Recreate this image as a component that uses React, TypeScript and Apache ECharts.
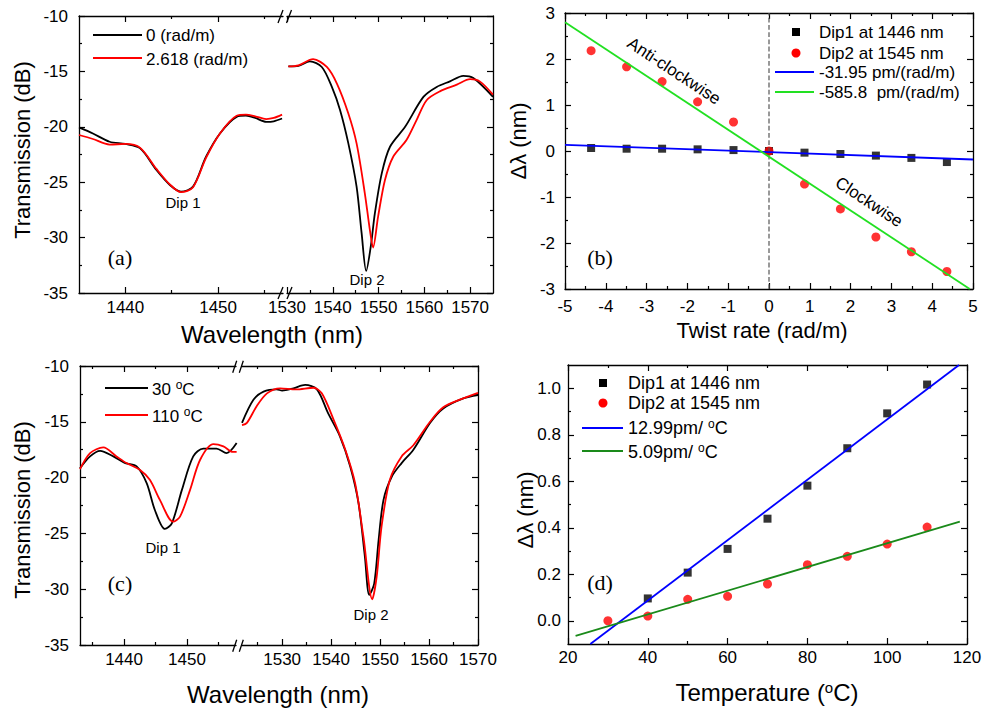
import React, { useEffect, useRef } from 'react';
import * as echarts from 'echarts';

// ---------- Panel (a): transmission vs wavelength under twist ----------
const aLeftBlack: [number, number][] = [
  [1435.0, -20.05], [1436.5, -20.6], [1438.3, -21.35], [1440.0, -21.55], [1441.6, -21.95],
  [1443.35, -23.9], [1444.8, -25.25], [1446.0, -25.85], [1447.3, -25.4], [1448.7, -22.7],
  [1450.2, -20.6], [1452.0, -19.1], [1453.0, -19.0], [1454.0, -19.2], [1455.2, -19.55],
  [1456.0, -19.5], [1456.9, -19.25],
];
const aLeftRed: [number, number][] = [
  [1435.0, -20.74], [1436.5, -21.1], [1438.3, -21.6], [1440.0, -21.55], [1441.6, -21.9],
  [1443.35, -23.8], [1444.8, -25.2], [1446.0, -25.9], [1447.3, -25.45], [1448.7, -22.8],
  [1450.2, -20.6], [1452.0, -19.0], [1453.0, -18.9], [1454.0, -19.05], [1455.2, -19.3],
  [1456.0, -19.2], [1456.9, -18.9],
];
const aRightBlack: [number, number][] = [
  [1530.3, -14.55], [1532.5, -14.5], [1535.0, -14.1], [1537.6, -14.6], [1539.8, -16.4],
  [1541.6, -18.5], [1543.4, -21.5], [1545.2, -25.4], [1546.3, -29.6], [1547.3, -33.0],
  [1548.3, -30.8], [1549.2, -27.8], [1550.7, -24.2], [1552.5, -21.8], [1555.8, -20.0],
  [1559.8, -17.3], [1562.7, -16.4], [1565.6, -15.9], [1568.5, -15.4], [1570.7, -15.6],
  [1575.0, -17.3],
];
const aRightRed: [number, number][] = [
  [1530.3, -14.55], [1532.5, -14.45], [1535.7, -13.9], [1538.7, -14.6], [1540.9, -16.1],
  [1543.4, -18.8], [1545.2, -21.5], [1547.0, -26.0], [1548.1, -29.3], [1548.8, -30.9],
  [1549.9, -28.1], [1551.4, -24.8], [1553.2, -22.7], [1556.1, -21.2], [1558.3, -19.4],
  [1560.5, -17.6], [1563.4, -16.8], [1567.1, -16.2], [1570.0, -15.7], [1572.1, -15.9],
  [1575.0, -17.1],
];

// ---------- Panel (b): shift vs twist rate ----------
const twistRates = [-4.36, -3.49, -2.62, -1.75, -0.87, 0, 0.87, 1.75, 2.62, 3.49, 4.36];
const dip1Twist = [0.065, 0.05, 0.05, 0.036, 0.02, 0, -0.036, -0.065, -0.1, -0.15, -0.24];
const dip2Twist = [2.18, 1.83, 1.51, 1.07, 0.63, 0, -0.72, -1.26, -1.87, -2.19, -2.62];
const fitTwistDip1: [number, number][] = [[-5, 0.135], [5, -0.185]];
const fitTwistDip2: [number, number][] = [[-5, 2.8], [4.92, -3.0]];
const zeroLine: [number, number][] = [[0, -3], [0, 3]];

// ---------- Panel (c): transmission vs wavelength at two temperatures ----------
const cLeftBlack: [number, number][] = [
  [1433.0, -19.17], [1434.6, -18.1], [1436.2, -17.6], [1438.3, -18.1], [1440.2, -18.7],
  [1442.0, -19.0], [1443.6, -20.5], [1444.9, -22.9], [1446.5, -24.6], [1447.6, -24.1],
  [1449.2, -21.1], [1451.0, -18.1], [1452.6, -17.4], [1454.7, -17.4], [1456.3, -17.8],
  [1457.9, -16.9],
];
const cLeftRed: [number, number][] = [
  [1433.0, -19.25], [1434.6, -17.8], [1436.7, -17.3], [1438.8, -18.1], [1440.4, -18.7],
  [1442.5, -19.3], [1444.1, -20.2], [1445.7, -22.0], [1447.8, -23.95], [1448.9, -23.5],
  [1450.5, -21.1], [1452.1, -18.4], [1454.2, -17.0], [1455.8, -17.2], [1457.3, -17.7],
  [1457.9, -17.7],
];
const cRightBlack: [number, number][] = [
  [1521.8, -15.1], [1524.1, -13.05], [1526.2, -12.3], [1528.9, -12.1], [1530.0, -12.2],
  [1532.3, -12.0], [1534.7, -11.7], [1537.1, -12.1], [1539.4, -14.25], [1541.8, -16.3],
  [1543.9, -19.0], [1545.6, -22.3], [1546.9, -27.1], [1547.8, -30.5], [1548.8, -29.5],
  [1549.7, -25.6], [1550.7, -22.0], [1552.4, -19.9], [1554.4, -18.7], [1556.8, -17.5],
  [1560.2, -15.1], [1562.9, -13.8], [1567.0, -12.9], [1570.0, -12.6],
];
const cRightRed: [number, number][] = [
  [1521.8, -15.3], [1522.8, -15.1], [1524.8, -13.6], [1526.9, -12.45], [1529.6, -12.0],
  [1532.8, -12.1], [1536.4, -11.95], [1538.1, -12.45], [1540.5, -14.8], [1542.9, -17.5],
  [1544.9, -20.5], [1546.6, -25.3], [1548.4, -30.9], [1549.3, -28.9], [1550.3, -24.4],
  [1552.0, -20.2], [1554.4, -18.1], [1556.8, -17.1], [1560.2, -15.0], [1562.9, -13.7],
  [1567.0, -12.9], [1570.0, -12.4],
];

// ---------- Panel (d): shift vs temperature ----------
const temps1 = [40, 50, 60, 70, 80, 90, 100, 110];
const dip1Temp = [0.096, 0.207, 0.309, 0.439, 0.581, 0.742, 0.892, 1.016];
const temps2 = [30, 40, 50, 60, 70, 80, 90, 100, 110];
const dip2Temp = [0.0, 0.02, 0.092, 0.105, 0.158, 0.241, 0.277, 0.33, 0.403];
const fitTempDip1: [number, number][] = [[25.6, -0.1], [118.0, 1.1]];
const fitTempDip2: [number, number][] = [[21.9, -0.065], [118.2, 0.426]];

// ---------- Tick values ----------
const transTicks = [-35, -30, -25, -20, -15, -10];
const transMinor = [-32.5, -27.5, -22.5, -17.5, -12.5];
const aLeftTicks = [1440, 1450];
const aLeftMinor = [1445, 1455];
const rightWlTicks = [1530, 1540, 1550, 1560, 1570];
const aRightMinor = [1535, 1545, 1555, 1565];
const cLeftTicks = [1440, 1450];
const cLeftMinor = [1435, 1445, 1455];
const cRightMinor = [1525, 1535, 1545, 1555, 1565];
const twistTicks = [-5, -4, -3, -2, -1, 0, 1, 2, 3, 4, 5];
const twistMinor = [-4.5, -3.5, -2.5, -1.5, -0.5, 0.5, 1.5, 2.5, 3.5, 4.5];
const shiftTicksB = [-3, -2, -1, 0, 1, 2, 3];
const shiftMinorB = [-2.5, -1.5, -0.5, 0.5, 1.5, 2.5];
const tempTicks = [20, 40, 60, 80, 100, 120];
const tempMinor = [30, 50, 70, 90, 110];
const shiftTicksD = [0, 0.2, 0.4, 0.6, 0.8, 1.0];
const shiftMinorD = [0.1, 0.3, 0.5, 0.7, 0.9];

const SANS = '"Liberation Sans", Arial, sans-serif';
const SERIF = '"Liberation Serif", "Times New Roman", serif';

function buildOption() {
  const grids = [
    { left: 79, top: 16, width: 204, height: 277 },
    { left: 287, top: 16, width: 206, height: 277 },
    { left: 565, top: 13, width: 408, height: 276 },
    { left: 80, top: 366, width: 156, height: 279 },
    { left: 242, top: 366, width: 236, height: 279 },
    { left: 568, top: 365, width: 399, height: 279 },
  ].map((g) => ({ ...g, containLabel: false, outerBoundsMode: 'none', show: false }));

  const xAxes: any[] = [];
  const yAxes: any[] = [];
  const axisColor = '#000';

  const addAxis = (
    list: any[], grid: number, pos: string, min: number, max: number,
    major: number[], minor: number[], label: boolean, fmt: (v: number) => string, margin: number
  ) => {
    const base = { type: 'value', gridIndex: grid, min, max, position: pos, splitLine: { show: false } };
    list.push({
      ...base,
      axisLine: { show: true, onZero: false, lineStyle: { color: axisColor, width: 1.3 } },
      axisTick: { show: true, inside: true, length: 6, customValues: major, lineStyle: { color: axisColor, width: 1.2 } },
      axisLabel: label
        ? { show: true, customValues: major, formatter: fmt, fontFamily: SANS, fontSize: 17, color: '#000', margin }
        : { show: false },
    });
    const idx = list.length - 1;
    list.push({
      ...base,
      axisLine: { show: false, onZero: false },
      axisTick: { show: true, inside: true, length: 3, customValues: minor, lineStyle: { color: axisColor, width: 1.2 } },
      axisLabel: { show: false },
    });
    return idx;
  };

  const str = (v: number) => String(v);
  const fix1 = (v: number) => v.toFixed(1);

  // grid 0 (a-left)
  const x0 = addAxis(xAxes, 0, 'bottom', 1435, 1457, aLeftTicks, aLeftMinor, true, str, 6);
  addAxis(xAxes, 0, 'top', 1435, 1457, aLeftTicks, aLeftMinor, false, str, 6);
  const y0 = addAxis(yAxes, 0, 'left', -35, -10, transTicks, transMinor, true, str, 11);
  // grid 1 (a-right)
  const x1 = addAxis(xAxes, 1, 'bottom', 1530, 1575, rightWlTicks, aRightMinor, true, str, 6);
  addAxis(xAxes, 1, 'top', 1530, 1575, rightWlTicks, aRightMinor, false, str, 6);
  const y1 = addAxis(yAxes, 1, 'right', -35, -10, transTicks, transMinor, false, str, 8);
  // grid 2 (b)
  const x2 = addAxis(xAxes, 2, 'bottom', -5, 5, twistTicks, twistMinor, true, str, 9);
  addAxis(xAxes, 2, 'top', -5, 5, twistTicks, twistMinor, false, str, 6);
  const y2 = addAxis(yAxes, 2, 'left', -3, 3, shiftTicksB, shiftMinorB, true, str, 10);
  addAxis(yAxes, 2, 'right', -3, 3, shiftTicksB, shiftMinorB, false, str, 8);
  // grid 3 (c-left)
  const x3 = addAxis(xAxes, 3, 'bottom', 1433, 1457.8, cLeftTicks, cLeftMinor, true, str, 6);
  addAxis(xAxes, 3, 'top', 1433, 1457.8, cLeftTicks, cLeftMinor, false, str, 6);
  const y3 = addAxis(yAxes, 3, 'left', -35, -10, transTicks, transMinor, true, str, 11);
  // grid 4 (c-right)
  const x4 = addAxis(xAxes, 4, 'bottom', 1521.8, 1570, rightWlTicks, cRightMinor, true, str, 6);
  addAxis(xAxes, 4, 'top', 1521.8, 1570, rightWlTicks, cRightMinor, false, str, 6);
  const y4 = addAxis(yAxes, 4, 'right', -35, -10, transTicks, transMinor, false, str, 8);
  // grid 5 (d)
  const x5 = addAxis(xAxes, 5, 'bottom', 20, 120, tempTicks, tempMinor, true, str, 5);
  addAxis(xAxes, 5, 'top', 20, 120, tempTicks, tempMinor, false, str, 6);
  const y5 = addAxis(yAxes, 5, 'left', -0.1, 1.1, shiftTicksD, shiftMinorD, true, fix1, 7);
  addAxis(yAxes, 5, 'right', -0.1, 1.1, shiftTicksD, shiftMinorD, false, fix1, 8);

  const spectrum = (data: [number, number][], xi: number, yi: number, color: string) => ({
    type: 'line', data, xAxisIndex: xi, yAxisIndex: yi, showSymbol: false, symbol: 'none',
    smooth: 0.3, lineStyle: { color, width: 1.8 }, silent: true,
  });
  const fit = (data: [number, number][], xi: number, yi: number, color: string, extra: any = {}) => ({
    type: 'line', data, xAxisIndex: xi, yAxisIndex: yi, showSymbol: false, symbol: 'none',
    lineStyle: { color, width: 1.8, ...extra }, silent: true,
  });
  const scatter = (xs: number[], ys: number[], xi: number, yi: number, color: string, symbol: string, size: number) => ({
    type: 'scatter', data: xs.map((x, i) => [x, ys[i]]), xAxisIndex: xi, yAxisIndex: yi,
    symbol, symbolSize: size, itemStyle: { color }, silent: true,
  });

  const BLUE = '#0000ff';
  const GREEN_B = '#22e022';
  const GREEN_D = '#1a8a1a';

  const series: any[] = [
    spectrum(aLeftBlack, x0, y0, '#000'),
    spectrum(aLeftRed, x0, y0, '#ff0000'),
    spectrum(aRightBlack, x1, y1, '#000'),
    spectrum(aRightRed, x1, y1, '#ff0000'),
    fit(zeroLine, x2, y2, '#555', { type: 'dashed', width: 1.2 }),
    fit(fitTwistDip1, x2, y2, BLUE),
    fit(fitTwistDip2, x2, y2, GREEN_B),
    scatter(twistRates, dip1Twist, x2, y2, '#000', 'rect', 8),
    scatter(twistRates, dip2Twist, x2, y2, '#ff0000', 'circle', 9),
    spectrum(cLeftBlack, x3, y3, '#000'),
    spectrum(cLeftRed, x3, y3, '#ff0000'),
    spectrum(cRightBlack, x4, y4, '#000'),
    spectrum(cRightRed, x4, y4, '#ff0000'),
    fit(fitTempDip1, x5, y5, BLUE),
    fit(fitTempDip2, x5, y5, GREEN_D),
    scatter(temps1, dip1Temp, x5, y5, '#000', 'rect', 8),
    scatter(temps2, dip2Temp, x5, y5, '#ff0000', 'circle', 9),
  ];

  const txt = (text: string, x: number, y: number, size: number, opts: any = {}) => ({
    type: 'text', x, y, z: 100, rotation: opts.rotation || 0,
    style: {
      text, fontFamily: opts.family || SANS, fontSize: size, fill: opts.fill || '#000',
      align: opts.align || 'center', verticalAlign: 'middle', rich: opts.rich,
    },
  });
  const ln = (x1: number, y1: number, x2: number, y2: number, color: string, w = 1.8) => ({
    type: 'line', z: 100, shape: { x1, y1, x2, y2 }, style: { stroke: color, lineWidth: w },
  });
  const sup = (size: number) => ({ s: { fontSize: size, fontFamily: SANS, verticalAlign: 'top', padding: [0, 0, size * 0.6, 0] } });

  const graphics: any[] = [
    // axis titles
    txt('Transmission (dB)', 22, 150, 22, { rotation: Math.PI / 2 }),
    txt('Wavelength (nm)', 272, 334, 24),
    txt('\u0394\u03bb (nm)', 518, 141, 22, { rotation: Math.PI / 2 }),
    txt('Twist rate (rad/m)', 762, 330, 22),
    txt('Transmission (dB)', 22, 510, 22, { rotation: Math.PI / 2 }),
    txt('Wavelength (nm)', 278, 694, 24),
    txt('\u0394\u03bb (nm)', 525, 510, 22, { rotation: Math.PI / 2 }),
    txt('Temperature ({s|o}C)', 767, 692, 24, { rich: sup(15) }),
    // panel labels
    txt('(a)', 120, 257, 22, { family: SERIF }),
    txt('(b)', 600, 257, 22, { family: SERIF }),
    txt('(c)', 120, 583, 22, { family: SERIF }),
    txt('(d)', 600, 582, 22, { family: SERIF }),
    // dip labels
    txt('Dip 1', 183, 202, 15),
    txt('Dip 2', 367, 279, 15),
    txt('Dip 1', 163, 547, 15),
    txt('Dip 2', 371, 614, 15),
    // rotated annotations in (b)
    txt('Anti-clockwise', 674, 71, 17, { rotation: -0.583 }),
    txt('Clockwise', 869, 202, 17, { rotation: -0.583 }),
    // legend (a)
    ln(93, 35, 142, 35, '#000'),
    txt('0 (rad/m)', 146, 35, 17, { align: 'left' }),
    ln(93, 58, 142, 58, '#ff0000'),
    txt('2.618 (rad/m)', 146, 59, 17, { align: 'left' }),
    // legend (b)
    { type: 'rect', z: 100, shape: { x: 792, y: 28, width: 8, height: 8 }, style: { fill: '#000' } },
    txt('Dip1 at 1446 nm', 819, 32, 17, { align: 'left' }),
    { type: 'circle', z: 100, shape: { cx: 796, cy: 53, r: 4.5 }, style: { fill: '#ff0000' } },
    txt('Dip2 at 1545 nm', 819, 53, 17, { align: 'left' }),
    ln(775, 72, 814, 72, BLUE),
    txt('-31.95 pm/(rad/m)', 819, 72, 17, { align: 'left' }),
    ln(775, 92, 814, 92, GREEN_B),
    txt('-585.8 \u00a0pm/(rad/m)', 819, 92, 17, { align: 'left' }),
    // legend (c)
    ln(105, 388, 148, 388, '#000'),
    txt('30 {s|o}C', 152, 389, 17, { align: 'left', rich: sup(12) }),
    ln(105, 415, 148, 415, '#ff0000'),
    txt('110 {s|o}C', 152, 416, 17, { align: 'left', rich: sup(12) }),
    // legend (d)
    { type: 'rect', z: 100, shape: { x: 599, y: 379, width: 8, height: 8 }, style: { fill: '#000' } },
    txt('Dip1 at 1446 nm', 628, 383, 18, { align: 'left' }),
    { type: 'circle', z: 100, shape: { cx: 603, cy: 403, r: 4.5 }, style: { fill: '#ff0000' } },
    txt('Dip2 at 1545 nm', 628, 403, 18, { align: 'left' }),
    ln(582, 428, 623, 428, BLUE),
    txt('12.99pm/ {s|o}C', 628, 428, 18, { align: 'left', rich: sup(12) }),
    ln(582, 451, 623, 451, GREEN_D),
    txt('5.09pm/ {s|o}C', 628, 452, 18, { align: 'left', rich: sup(12) }),
    // axis break marks
    ln(278, 23, 283, 10, '#000', 1.3),
    ln(286.5, 23, 291.5, 10, '#000', 1.3),
    ln(278, 299, 283, 287, '#000', 1.3),
    ln(287, 299, 292, 287, '#000', 1.3),
    ln(232.7, 372.7, 236.7, 360.7, '#000', 1.3),
    ln(239.3, 372.7, 243.3, 360.7, '#000', 1.3),
    ln(232.7, 651.7, 236.7, 639.7, '#000', 1.3),
    ln(239.3, 651.7, 243.3, 639.7, '#000', 1.3),
  ];

  return {
    animation: false,
    backgroundColor: '#fff',
    grid: grids,
    xAxis: xAxes,
    yAxis: yAxes,
    series,
    graphic: { elements: graphics },
  };
}

export default function App() {
  const ref = useRef<HTMLDivElement>(null);
  useEffect(() => {
    if (!ref.current) return;
    const chart = echarts.init(ref.current, null, { renderer: 'svg' });
    chart.setOption(buildOption() as any);
    return () => chart.dispose();
  }, []);
  return (
    <div
      ref={ref}
      style={{ position: 'fixed', left: 0, top: 0, width: 982, height: 712, background: '#fff' }}
    />
  );
}
